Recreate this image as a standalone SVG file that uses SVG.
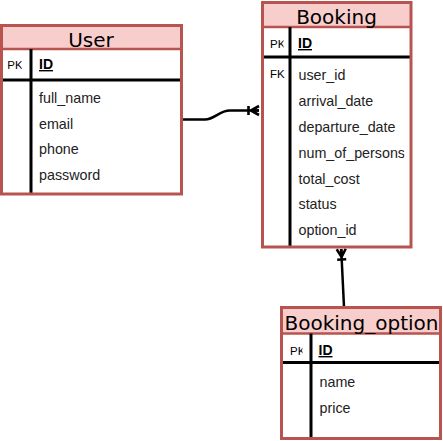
<svg xmlns="http://www.w3.org/2000/svg" width="443" height="441" viewBox="0 0 443 441">
<defs>
<style>
.body{fill:#ffffff;stroke:none}
.head{fill:#f8cecc;stroke:none}
.border{fill:none;stroke:#b85450;stroke-width:3}
.sep{stroke:#b85450;stroke-width:2.5}
.ink{stroke:#000;stroke-width:3;fill:none}
.title{font-family:"DejaVu Sans",sans-serif;font-size:20px;fill:#000;text-anchor:middle}
.fld{font-family:"Liberation Sans",Arial,sans-serif;font-size:14.3px;fill:#222}
.key{font-family:"Liberation Sans",Arial,sans-serif;font-size:11.5px;fill:#000}
.pk{font-family:"Liberation Sans",Arial,sans-serif;font-size:14px;font-weight:bold;text-decoration:underline;fill:#000}
.edge{stroke:#000;stroke-width:2.5;fill:none}
</style>
<marker id="oneMany" markerUnits="userSpaceOnUse" orient="auto" viewBox="-14 -7 16 14" refX="0" refY="0" markerWidth="16" markerHeight="14" overflow="visible">
<path d="M-8,0 L0,-4.5 M-8,0 L0,0 M-8,0 L0,4.5 M-10.5,-4.5 L-10.5,4.5" stroke="#000" stroke-width="2.6" fill="none"/>
</marker>
<clipPath id="cU"><rect x="0" y="49" width="21.7" height="31"/></clipPath>
<clipPath id="cB"><rect x="262" y="27" width="21.5" height="30"/></clipPath>
<clipPath id="cO"><rect x="281" y="333" width="21.5" height="30"/></clipPath>
<clipPath id="cBf"><rect x="262" y="0" width="142.5" height="250"/></clipPath>
<clipPath id="cOt"><rect x="282.5" y="307" width="157" height="27"/></clipPath>
</defs>

<g id="connectors">
<path class="edge" d="M182,119.5 L205,119.5 C215,119.5 219,110.5 230,110.5 L259,110.5" marker-end="url(#oneMany)"/>
<path class="edge" d="M344,307 L341.2,249" marker-end="url(#oneMany)"/>
</g>

<g id="User">
<rect class="body" x="1.5" y="25.5" width="180" height="168.5"/>
<rect class="head" x="1.5" y="25.5" width="180" height="23.5"/>
<line class="sep" x1="1.5" y1="49" x2="181.5" y2="49"/>
<line class="ink" x1="31" y1="49" x2="31" y2="194"/>
<line class="ink" x1="1.5" y1="80" x2="181.5" y2="80"/>
<text class="title" x="91" y="47">User</text>
<text class="key" x="7.3" y="68.5" clip-path="url(#cU)">PK</text>
<text class="pk" x="39" y="69">ID</text>
<text class="fld" x="39" y="103">full_name</text>
<text class="fld" x="39" y="129">email</text>
<text class="fld" x="39" y="154">phone</text>
<text class="fld" x="39" y="180">password</text>
<rect class="border" x="1.5" y="25.5" width="180" height="168.5"/>
</g>

<g id="Booking">
<rect class="body" x="262.5" y="2.5" width="148.5" height="244.5"/>
<rect class="head" x="262.5" y="2.5" width="148.5" height="24.5"/>
<line class="sep" x1="262.5" y1="27" x2="411" y2="27"/>
<line class="ink" x1="290" y1="27" x2="290" y2="247"/>
<line class="ink" x1="262.5" y1="57" x2="411" y2="57"/>
<text class="title" x="336.5" y="24">Booking</text>
<text class="key" x="270" y="47.5" clip-path="url(#cB)">PK</text>
<text class="pk" x="298" y="48">ID</text>
<text class="key" x="270" y="77.5">FK</text>
<g clip-path="url(#cBf)">
<text class="fld" x="298.5" y="79.5">user_id</text>
<text class="fld" x="298.5" y="105.5">arrival_date</text>
<text class="fld" x="298.5" y="132">departure_date</text>
<text class="fld" x="298.5" y="158">num_of_persons</text>
<text class="fld" x="298.5" y="184">total_cost</text>
<text class="fld" x="298.5" y="209">status</text>
<text class="fld" x="298.5" y="235">option_id</text>
</g>
<rect class="border" x="262.5" y="2.5" width="148.5" height="244.5"/>
</g>

<g id="Booking_option">
<rect class="body" x="281.5" y="307.5" width="159" height="131"/>
<rect class="head" x="281.5" y="307.5" width="159" height="26"/>
<line class="sep" x1="281.5" y1="333.5" x2="440.5" y2="333.5"/>
<line class="ink" x1="311" y1="333.5" x2="311" y2="438.5"/>
<line class="ink" x1="281.5" y1="362.5" x2="440.5" y2="362.5"/>
<text class="title" x="361.5" y="330" clip-path="url(#cOt)">Booking_option</text>
<text class="key" x="290" y="354.5" clip-path="url(#cO)">PK</text>
<text class="pk" x="318.5" y="355">ID</text>
<text class="fld" x="319.5" y="386.5">name</text>
<text class="fld" x="319.5" y="412.5">price</text>
<rect class="border" x="281.5" y="307.5" width="159" height="131"/>
</g>
</svg>
